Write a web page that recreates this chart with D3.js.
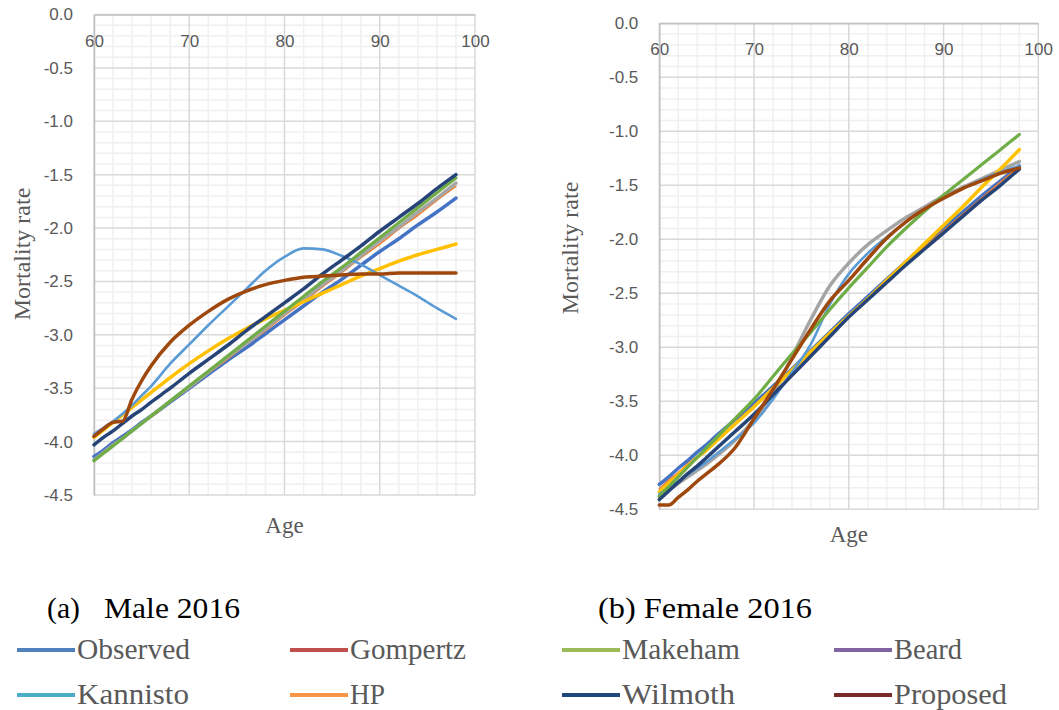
<!DOCTYPE html>
<html>
<head>
<meta charset="utf-8">
<script src="https://cdn.jsdelivr.net/npm/d3@7"></script>
<style>
  body { margin: 0; background: #fff; }
  svg { display: block; }
</style>
</head>
<body>
<div id="chart"></div>
<script>
// ---- data ----
const ages = [60,61,62,63,64,65,66,68,70,72,74,76,78,80,82,84,86,88,90,92,94,96,98];
const seriesNames = ["Observed","Gompertz","Makeham","Beard","Kannisto","HP","Wilmoth","Proposed"];
const xTicks = [60,70,80,90,100];
const yTicks = [0,-0.5,-1,-1.5,-2,-2.5,-3,-3.5,-4,-4.5];

const maleObserved = [-4.14,-4.08,-4.01,-3.95,-3.89,-3.82,-3.76,-3.63,-3.50,-3.37,-3.24,-3.12,-2.99,-2.86,-2.73,-2.60,-2.48,-2.35,-2.22,-2.10,-1.97,-1.85,-1.72];
const maleGompertz = [-4.17,-4.10,-4.04,-3.97,-3.90,-3.83,-3.77,-3.63,-3.50,-3.36,-3.23,-3.09,-2.96,-2.82,-2.69,-2.55,-2.42,-2.28,-2.15,-2.01,-1.88,-1.74,-1.61];
const maleMakeham = [-4.17,-4.10,-4.03,-3.97,-3.90,-3.83,-3.76,-3.62,-3.49,-3.35,-3.21,-3.08,-2.94,-2.80,-2.67,-2.53,-2.40,-2.26,-2.12,-1.99,-1.85,-1.72,-1.58];
const maleBeard = [-3.96,-3.89,-3.82,-3.75,-3.68,-3.61,-3.54,-3.40,-3.27,-3.15,-3.04,-2.94,-2.85,-2.77,-2.69,-2.61,-2.53,-2.45,-2.38,-2.31,-2.25,-2.20,-2.15];
const maleKannisto = [-3.93,-3.87,-3.81,-3.74,-3.66,-3.57,-3.48,-3.27,-3.09,-2.91,-2.74,-2.57,-2.40,-2.27,-2.19,-2.20,-2.26,-2.34,-2.44,-2.54,-2.64,-2.75,-2.85];
const maleHP = [-4.18,-4.11,-4.04,-3.97,-3.90,-3.83,-3.76,-3.62,-3.48,-3.34,-3.20,-3.06,-2.92,-2.78,-2.64,-2.50,-2.37,-2.23,-2.09,-1.95,-1.81,-1.67,-1.53];
const maleWilmoth = [-4.03,-3.96,-3.90,-3.83,-3.76,-3.70,-3.63,-3.50,-3.36,-3.23,-3.10,-2.96,-2.83,-2.70,-2.57,-2.43,-2.30,-2.17,-2.03,-1.90,-1.77,-1.63,-1.50];
const maleProposed = [-3.95,-3.88,-3.82,-3.81,-3.60,-3.43,-3.29,-3.07,-2.91,-2.78,-2.67,-2.59,-2.53,-2.49,-2.46,-2.45,-2.44,-2.43,-2.43,-2.42,-2.42,-2.42,-2.42];

const femaleObserved = [-4.27,-4.20,-4.12,-4.05,-3.97,-3.90,-3.82,-3.67,-3.52,-3.36,-3.20,-3.03,-2.86,-2.69,-2.53,-2.37,-2.21,-2.05,-1.90,-1.75,-1.60,-1.46,-1.32];
const femaleGompertz = [-4.31,-4.23,-4.16,-4.08,-4.01,-3.93,-3.86,-3.71,-3.55,-3.39,-3.22,-3.05,-2.88,-2.71,-2.55,-2.39,-2.23,-2.07,-1.92,-1.77,-1.62,-1.47,-1.33];
const femaleMakeham = [-4.38,-4.32,-4.26,-4.20,-4.14,-4.08,-4.01,-3.86,-3.67,-3.43,-3.09,-2.74,-2.43,-2.22,-2.05,-1.92,-1.80,-1.70,-1.60,-1.52,-1.44,-1.36,-1.28];
const femaleBeard = [-4.34,-4.26,-4.18,-4.10,-4.02,-3.95,-3.87,-3.71,-3.55,-3.38,-3.21,-3.04,-2.87,-2.71,-2.55,-2.38,-2.21,-2.04,-1.87,-1.70,-1.52,-1.35,-1.17];
const femaleKannisto = [-4.36,-4.30,-4.24,-4.18,-4.12,-4.06,-3.99,-3.85,-3.70,-3.48,-3.23,-2.97,-2.60,-2.32,-2.13,-1.98,-1.84,-1.72,-1.62,-1.53,-1.45,-1.38,-1.32];
const femaleHP = [-4.38,-4.29,-4.20,-4.11,-4.02,-3.93,-3.84,-3.66,-3.48,-3.27,-3.06,-2.86,-2.65,-2.45,-2.26,-2.07,-1.90,-1.74,-1.59,-1.45,-1.31,-1.17,-1.03];
const femaleWilmoth = [-4.41,-4.33,-4.25,-4.17,-4.10,-4.02,-3.94,-3.78,-3.62,-3.44,-3.26,-3.08,-2.90,-2.72,-2.56,-2.40,-2.24,-2.09,-1.94,-1.79,-1.64,-1.50,-1.35];
const femaleProposed = [-4.46,-4.46,-4.39,-4.32,-4.24,-4.17,-4.10,-3.93,-3.66,-3.39,-3.11,-2.83,-2.57,-2.38,-2.18,-1.99,-1.84,-1.72,-1.62,-1.53,-1.46,-1.39,-1.34];

// ---- styles ----
const lineColors = ["#4472C4","#ED7D31","#A5A5A5","#FFC000","#5B9BD5","#70AD47","#264478","#9E480E"];
const lineWidths = [3.5, 1.6, 3.5, 3.5, 2.6, 3.2, 3.5, 3.5];
const legendColors = ["#4F81BD","#C0504D","#9BBB59","#8064A2","#4BACC6","#F79646","#1F497D","#772C2A"];

// pick the first installed serif face (canvas width test against monospace)
function pickFont(cands, generic) {
  const ctx = document.createElement("canvas").getContext("2d");
  const probe = "Mortality rate Age 2016 WMmwil";
  ctx.font = "40px monospace";
  const base = ctx.measureText(probe).width;
  for (const c of cands) {
    ctx.font = '40px "' + c + '", monospace';
    if (Math.abs(ctx.measureText(probe).width - base) > 0.5) return '"' + c + '", ' + generic;
  }
  return generic;
}
const serif = pickFont(["Liberation Serif", "Times New Roman", "Tinos", "DejaVu Serif", "Noto Serif", "FreeSerif", "Nimbus Roman"], "serif");
const sans = pickFont(["Liberation Sans", "Arial", "Noto Sans"], "sans-serif");

const svg = d3.select("#chart").append("svg")
  .attr("width", 1059).attr("height", 710);

function drawPanel(cfg) {
  const x = d3.scaleLinear().domain([60, 100]).range([cfg.left, cfg.right]);
  const y = d3.scaleLinear().domain([0, -4.5]).range([cfg.top, cfg.bottom]);
  const g = svg.append("g");

  // minor grid
  g.append("g").selectAll("line").data(d3.range(62, 100, 2).filter(a => a % 10 !== 0))
    .enter().append("line")
    .attr("x1", d => x(d)).attr("x2", d => x(d))
    .attr("y1", cfg.top).attr("y2", cfg.bottom)
    .attr("stroke", "#F0F0F0").attr("stroke-width", 1.5);
  g.append("g").selectAll("line").data(d3.range(1, 45).filter(i => i % 5 !== 0).map(i => -i / 10))
    .enter().append("line")
    .attr("x1", cfg.left).attr("x2", cfg.right)
    .attr("y1", d => y(d)).attr("y2", d => y(d))
    .attr("stroke", "#F0F0F0").attr("stroke-width", 1.5);

  // major grid
  g.append("g").selectAll("line").data(xTicks)
    .enter().append("line")
    .attr("x1", d => x(d)).attr("x2", d => x(d))
    .attr("y1", cfg.top).attr("y2", cfg.bottom)
    .attr("stroke", "#D9D9D9").attr("stroke-width", 1.5);
  g.append("g").selectAll("line").data(yTicks)
    .enter().append("line")
    .attr("x1", cfg.left).attr("x2", cfg.right)
    .attr("y1", d => y(d)).attr("y2", d => y(d))
    .attr("stroke", "#D9D9D9").attr("stroke-width", 1.5);

  // axes
  const xAxis = g.append("g")
    .attr("transform", "translate(0," + cfg.top + ")")
    .call(d3.axisBottom(x).tickValues(xTicks).tickSize(0).tickPadding(20));
  const yAxis = g.append("g")
    .attr("transform", "translate(" + cfg.left + ",0)")
    .call(d3.axisLeft(y).tickValues(yTicks).tickSize(0).tickPadding(21)
      .tickFormat(d => d.toFixed(1)));
  [xAxis, yAxis].forEach(a => {
    a.attr("font-family", sans).attr("font-size", 17);
    a.select(".domain").attr("stroke", "#BFBFBF").attr("stroke-width", 1.5);
    a.selectAll("text").attr("fill", "#595959");
  });

  // series
  const line = d3.line()
    .x((d, i) => x(ages[i]))
    .y(d => y(d))
    .curve(d3.curveMonotoneX);
  g.append("g").selectAll("path").data(cfg.series)
    .enter().append("path")
    .attr("d", d => line(d))
    .attr("fill", "none")
    .attr("stroke", (d, i) => lineColors[i])
    .attr("stroke-width", (d, i) => lineWidths[i])
    .attr("stroke-linecap", "round")
    .attr("stroke-linejoin", "round");

  // titles
  g.append("text")
    .attr("transform", "translate(" + cfg.yTitleX + "," + cfg.yTitleY + ") rotate(-90)")
    .attr("text-anchor", "middle")
    .attr("fill", "#595959")
    .attr("font-family", serif).attr("font-size", 24)
    .text("Mortality rate");
  g.append("text")
    .attr("x", x(80)).attr("y", cfg.xTitleY)
    .attr("text-anchor", "middle")
    .attr("fill", "#595959")
    .attr("font-family", serif).attr("font-size", 23)
    .text("Age");
}

drawPanel({
  left: 94, right: 475, top: 14.5, bottom: 495,
  yTitleX: 30, yTitleY: 254, xTitleY: 533,
  series: [maleObserved, maleGompertz, maleMakeham, maleBeard, maleKannisto, maleHP, maleWilmoth, maleProposed]
});
drawPanel({
  left: 659.3, right: 1038.3, top: 23.3, bottom: 509.3,
  yTitleX: 578, yTitleY: 248, xTitleY: 542,
  series: [femaleObserved, femaleGompertz, femaleMakeham, femaleBeard, femaleKannisto, femaleHP, femaleWilmoth, femaleProposed]
});

// captions
svg.append("text").attr("x", 47).attr("y", 618)
  .attr("font-family", serif).attr("font-size", 29)
  .attr("textLength", 33).attr("lengthAdjust", "spacingAndGlyphs")
  .text("(a)");
svg.append("text").attr("x", 104).attr("y", 618)
  .attr("font-family", serif).attr("font-size", 29)
  .attr("textLength", 136).attr("lengthAdjust", "spacingAndGlyphs")
  .text("Male 2016");
svg.append("text").attr("x", 598).attr("y", 618)
  .attr("font-family", serif).attr("font-size", 29)
  .attr("textLength", 214).attr("lengthAdjust", "spacingAndGlyphs")
  .text("(b) Female 2016");

// legend
const legendCols = [17, 290, 562, 834];
const legendRows = [650, 695];
const legendTextLen = [113, 116, 118, 68, 112, 35, 113, 113];
const leg = svg.append("g").selectAll("g").data(seriesNames)
  .enter().append("g")
  .attr("transform", (d, i) => "translate(" + legendCols[i % 4] + "," + legendRows[Math.floor(i / 4)] + ")");
leg.append("line")
  .attr("x1", 0).attr("x2", 58).attr("y1", 0).attr("y2", 0)
  .attr("stroke", (d, i) => legendColors[i]).attr("stroke-width", 4);
leg.append("text")
  .attr("x", 60).attr("y", 9)
  .attr("fill", "#595959")
  .attr("font-family", serif).attr("font-size", 29)
  .attr("textLength", (d, i) => legendTextLen[i]).attr("lengthAdjust", "spacingAndGlyphs")
  .text(d => d);
</script>
</body>
</html>
